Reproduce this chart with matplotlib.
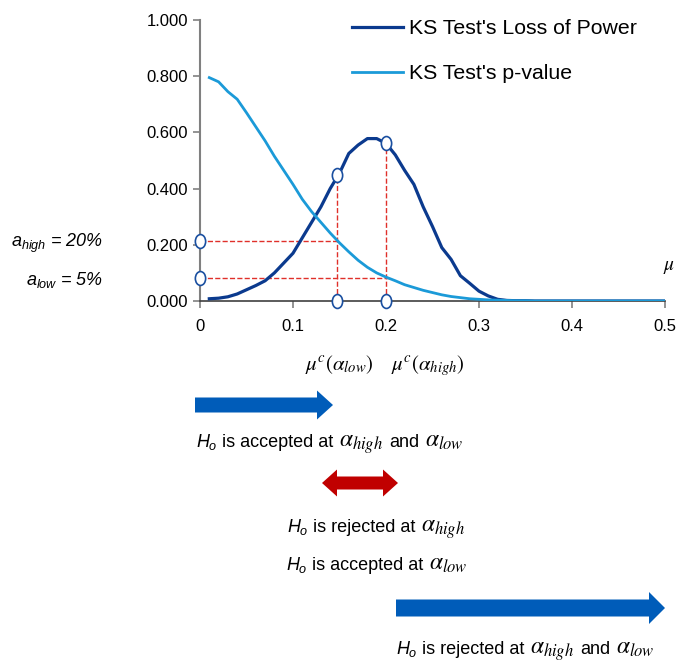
import numpy as np
import matplotlib
matplotlib.use("Agg")
import matplotlib.pyplot as plt
from matplotlib.path import Path
from matplotlib.patches import FancyArrow

plt.rcParams['font.family'] = ['Liberation Sans', 'DejaVu Sans']
plt.rcParams['mathtext.fontset'] = 'custom'
plt.rcParams['mathtext.rm'] = 'Liberation Sans'
plt.rcParams['mathtext.it'] = 'Liberation Sans:italic'

# shift in mean (mu)
mu = [0.01, 0.02, 0.03, 0.04, 0.05, 0.06, 0.07, 0.08, 0.09, 0.10,
      0.11, 0.12, 0.13, 0.14, 0.15, 0.16, 0.17, 0.18, 0.19, 0.20,
      0.21, 0.22, 0.23, 0.24, 0.25, 0.26, 0.27, 0.28, 0.29, 0.30,
      0.31, 0.32, 0.33, 0.34, 0.35, 0.36, 0.38, 0.40, 0.42, 0.44,
      0.46, 0.48, 0.50]
loss_of_power = [0.008, 0.010, 0.015, 0.025, 0.040, 0.055, 0.072, 0.100, 0.135, 0.170,
                 0.225, 0.280, 0.335, 0.400, 0.455, 0.525, 0.555, 0.578, 0.578, 0.561,
                 0.520, 0.465, 0.415, 0.335, 0.265, 0.190, 0.148, 0.090, 0.063, 0.035,
                 0.018, 0.006, 0.002, 0.001, 0.001, 0.0, 0.0, 0.0, 0.0, 0.0,
                 0.0, 0.0, 0.0]
p_value = [0.795, 0.780, 0.745, 0.718, 0.670, 0.620, 0.570, 0.515, 0.465, 0.415,
           0.362, 0.318, 0.280, 0.242, 0.207, 0.175, 0.145, 0.120, 0.100, 0.085,
           0.072, 0.058, 0.048, 0.038, 0.030, 0.022, 0.016, 0.012, 0.008, 0.006,
           0.004, 0.003, 0.002, 0.001, 0.001, 0.0, 0.0, 0.0, 0.0, 0.0,
           0.0, 0.0, 0.0]

# critical points
alpha_levels = [0.215, 0.082]      # alpha_high, alpha_low on the y axis
mu_crit = [0.147, 0.200]           # mu^c(alpha_low), mu^c(alpha_high)
power_at_crit = [0.448, 0.561]

dark = '#0b3a8e'
light = '#1b9ad8'
red = '#e0302a'

fig = plt.figure(figsize=(6.95, 6.63), dpi=100)
ax = fig.add_axes([200 / 695, 1 - 301 / 663, 465 / 695, 281 / 663])

ax.plot(mu, loss_of_power, color=dark, lw=2.3, label="KS Test's Loss of Power", zorder=3)
ax.plot(mu, p_value, color=light, lw=2.0, label="KS Test's p-value", zorder=3)

# dashed guide lines
ax.plot([0, mu_crit[0]], [alpha_levels[0]] * 2, ls='--', color=red, lw=1.0, zorder=2)
ax.plot([0, mu_crit[1] + 0.004], [alpha_levels[1]] * 2, ls='--', color=red, lw=1.0, zorder=2)
for xc, yc in zip(mu_crit, power_at_crit):
    ax.plot([xc, xc], [0, yc], ls='--', color=red, lw=1.0, zorder=2)

# elliptical hollow markers
circ = Path.unit_circle()
ell = Path(circ.vertices * np.array([1.0, 1.35]), circ.codes)
mk = dict(marker=ell, ms=10, mfc='white', mec='#1a4fa0', mew=1.2, ls='none',
          clip_on=False, zorder=5)
ax.plot([0, 0], alpha_levels, **mk)
ax.plot(mu_crit, power_at_crit, **mk)
ax.plot(mu_crit, [0, 0], **mk)

ax.set_xlim(0, 0.5)
ax.set_ylim(0, 1.0)
ax.set_xticks([0, 0.1, 0.2, 0.3, 0.4, 0.5])
ax.set_xticklabels(['0', '0.1', '0.2', '0.3', '0.4', '0.5'])
ax.set_yticks(np.arange(0, 1.01, 0.2))
ax.set_yticklabels(['%.3f' % v for v in np.arange(0, 1.01, 0.2)])
ax.tick_params(axis='both', labelsize=12, length=5, color='#808080', width=1.2)
ax.tick_params(axis='x', pad=8)
ax.spines['top'].set_visible(False)
ax.spines['right'].set_visible(False)
ax.spines['left'].set_color('#808080')
ax.spines['left'].set_linewidth(1.5)
ax.spines['bottom'].set_color('#404040')
ax.spines['bottom'].set_linewidth(1.2)

ax.legend(loc='upper left', bbox_to_anchor=(352 / 695, 1 - 19 / 663),
          bbox_transform=fig.transFigure, frameon=False, fontsize=15.3,
          borderpad=0, borderaxespad=0, handlelength=2.4, handletextpad=0.28,
          labelspacing=1.24)

# overlay in pixel coordinates for annotations
ov = fig.add_axes([0, 0, 1, 1], zorder=10)
ov.set_xlim(0, 695)
ov.set_ylim(663, 0)
ov.axis('off')
ov.patch.set_alpha(0)

ov.text(103, 247, r'$a_{high}$ = 20%', ha='right', va='baseline', fontsize=13, style='italic')
ov.text(103, 285, r'$a_{low}$ = 5%', ha='right', va='baseline', fontsize=13, style='italic')
ov.text(669, 268, r'$\mu$', ha='center', va='center', fontsize=14, math_fontfamily='stix')
ov.text(339, 370, r'$\mu^c(\alpha_{low})$', ha='center', va='baseline', fontsize=15,
        math_fontfamily='stix')
ov.text(428, 370, r'$\mu^c(\alpha_{high})$', ha='center', va='baseline', fontsize=15,
        math_fontfamily='stix')

# arrows
ov.add_patch(FancyArrow(195, 405, 138, 0, width=15, head_width=29, head_length=16,
                        length_includes_head=True, color='#005cb9', lw=0))
ov.add_patch(FancyArrow(360, 483, 38, 0, width=13, head_width=27, head_length=15,
                        length_includes_head=True, color='#c00000', lw=0))
ov.add_patch(FancyArrow(360, 483, -38, 0, width=13, head_width=27, head_length=15,
                        length_includes_head=True, color='#c00000', lw=0))
ov.add_patch(FancyArrow(396, 608, 269, 0, width=17, head_width=32, head_length=16,
                        length_includes_head=True, color='#005cb9', lw=0))

fig.canvas.draw()
renderer = fig.canvas.get_renderer()

SANS = 13
GREEK = 17


def text_run(x, y, parts):
    # parts: list of (string, size, math family, gap after)
    for s, size, mfam, gap in parts:
        t = ov.text(x, y, s, ha='left', va='baseline', fontsize=size,
                    math_fontfamily=mfam)
        x += t.get_window_extent(renderer).width + gap


ho = (r'$H_o$', SANS, 'custom', 4)
a_hi = (r'$\alpha_{high}$', GREEK, 'stix', 6)
a_lo = (r'$\alpha_{low}$', GREEK, 'stix', 6)
acc = ('is accepted at', SANS, 'custom', 6)
rej = ('is rejected at', SANS, 'custom', 6)
andw = ('and', SANS, 'custom', 6)
text_run(196, 447, [ho, acc, a_hi, andw, a_lo])
text_run(287, 532, [ho, rej, a_hi])
text_run(286, 570, [ho, acc, a_lo])
text_run(396, 654, [ho, rej, a_hi, andw, a_lo])

fig.savefig('out.png', dpi=100)
